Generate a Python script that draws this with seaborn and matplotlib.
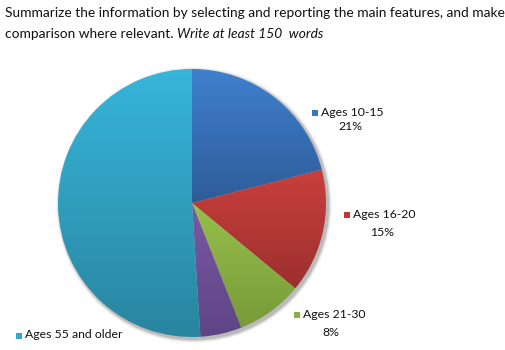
import numpy as np
import matplotlib
matplotlib.use("Agg")
import matplotlib.pyplot as plt
from matplotlib.colors import LinearSegmentedColormap
import seaborn as sns

# Share of each age group
groups = ["Ages 10-15", "Ages 16-20", "Ages 21-30", "Ages 31-54", "Ages 55 and older"]
shares = [21, 15, 8, 5, 51]
pct_labels = ["21%", "15%", "8%", None, None]
show_legend_label = [True, True, True, False, True]

# light (top) and dark (bottom) shade of every slice
light = ["#3F80CE", "#C9403D", "#97C04C", "#7A5AA3", "#37B5DA"]
dark = ["#2E5C98", "#9C2F2E", "#789A38", "#5E4485", "#2985A0"]
swatch = ["#3B75BE", "#B93A38", "#8AB043", "#6E529A", "#34A8C8"]

sns.set_theme(style="white")
plt.rcParams["font.family"] = ["Lato", "DejaVu Sans"]

W, H = 505, 350
fig = plt.figure(figsize=(W / 100, H / 100), dpi=100)
ax = fig.add_axes([0, 0, 1, 1])

cx, cy, r = 192, H - 203, 134

# soft shadow under the pie
for k, a in enumerate(np.linspace(0.10, 0.02, 5)):
    sh = plt.Circle((cx + 2, cy - 2), r + 1 + k * 0.8, color="black", alpha=a, lw=0, zorder=0)
    ax.add_patch(sh)

wedges, _ = ax.pie(shares, startangle=90, counterclock=False, center=(cx, cy),
                   radius=r, colors=swatch, frame=True,
                   wedgeprops=dict(linewidth=0))
ax.set_xlim(0, W)
ax.set_ylim(0, H)
ax.axis("off")
ax.set_aspect("equal")

# vertical gradient inside each slice
for w, lo, hi in zip(wedges, light, dark):
    w.set_facecolor("none")
    bb = w.get_path().get_extents(w.get_patch_transform())
    cmap = LinearSegmentedColormap.from_list("g", [hi, lo])
    grad = np.linspace(0, 1, 256).reshape(-1, 1)
    im = ax.imshow(grad, cmap=cmap, origin="lower", aspect="auto",
                   extent=(bb.x0, bb.x1, bb.y0, bb.y1), zorder=1)
    im.set_clip_path(w)

# slice labels with colour square
label_pos = [(312, 112, 338, 126), (344, 214, 370, 233), (294, 314, 322, 333), None, (16, 335, None, None)]
for i, g in enumerate(groups):
    if not show_legend_label[i]:
        continue
    sx, sy, px, py = label_pos[i]
    ax.add_patch(plt.Rectangle((sx, H - sy - 3.5), 6, 6, color=swatch[i], lw=0, zorder=3))
    ax.text(sx + 9, H - sy, g, fontsize=8.8, va="center", ha="left", color="#111111")
    if pct_labels[i]:
        ax.text(px, H - py, pct_labels[i], fontsize=8.8, va="center", ha="left", color="#111111")

# heading
fs = 9.9
ax.text(5, H - 13, "Summarize the information by selecting and reporting the main features, and make",
        fontsize=fs, va="center", ha="left", color="#111111")
t1 = ax.text(5, H - 34, "comparison where relevant. ", fontsize=fs, va="center", ha="left", color="#111111")
fig.canvas.draw()
bbox = t1.get_window_extent()
ax.text(bbox.x1, H - 34, "Write at least 150  words", fontsize=fs, va="center", ha="left",
        style="italic", color="#111111")

fig.savefig("out.png", dpi=100)
